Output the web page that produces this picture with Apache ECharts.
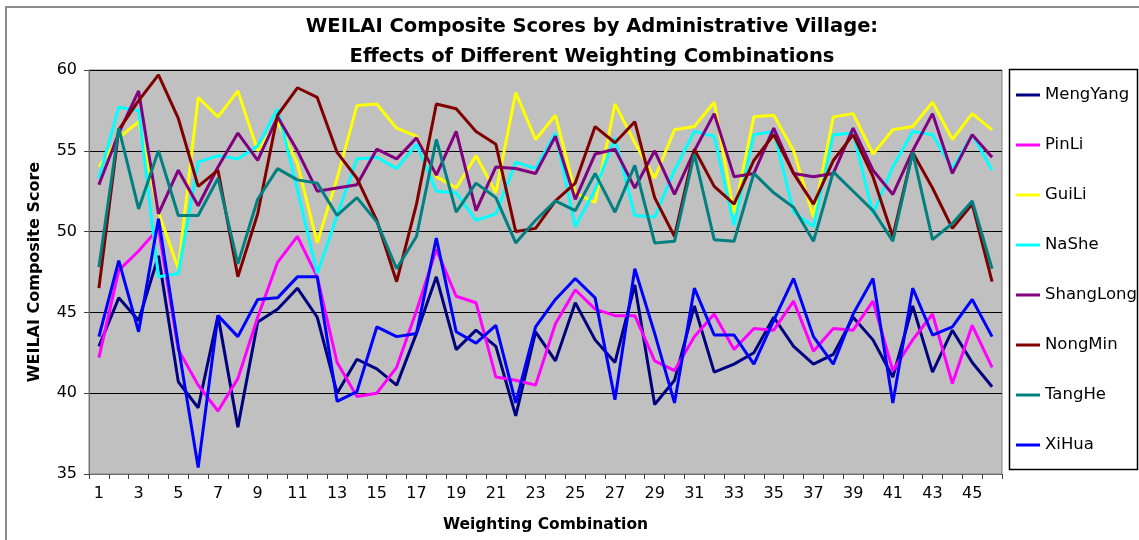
<!DOCTYPE html>
<html>
<head>
<meta charset="utf-8">
<script src="https://cdn.jsdelivr.net/npm/echarts@6/dist/echarts.min.js"></script>
<style>
html,body{margin:0;padding:0;background:#fff;}
#chart{width:1139px;height:540px;}
</style>
</head>
<body>
<div id="chart"></div>
<script>
var categories = [];
for (var k = 1; k <= 46; k++) { categories.push(String(k)); }

var seriesNames = ['MengYang','PinLi','GuiLi','NaShe','ShangLong','NongMin','TangHe','XiHua'];
var seriesColors = ['#000080','#FF00FF','#FFFF00','#00FFFF','#800080','#800000','#008080','#0000FF'];

var MengYang = [42.9,45.9,44.5,48.5,40.7,39.1,44.8,37.9,44.4,45.2,46.5,44.7,40.0,42.1,41.5,40.5,43.7,47.2,42.7,43.9,42.9,38.6,43.8,42.0,45.6,43.3,41.9,46.7,39.3,40.8,45.4,41.3,41.8,42.5,44.7,42.9,41.8,42.4,44.7,43.3,41.0,45.4,41.3,43.9,41.9,40.4];
var PinLi = [42.2,47.6,48.8,50.2,42.7,40.5,38.9,40.9,44.7,48.1,49.7,47.2,41.9,39.8,40.0,41.6,45.1,48.9,46.0,45.6,41.0,40.8,40.5,44.3,46.4,45.2,44.8,44.8,42.0,41.4,43.5,44.9,42.7,44.0,43.9,45.7,42.6,44.0,43.9,45.7,41.4,43.3,44.9,40.6,44.2,41.6];
var GuiLi = [54.0,55.8,56.8,51.2,47.7,58.3,57.1,58.7,55.0,56.8,54.2,49.3,53.3,57.8,57.9,56.4,55.9,53.4,52.7,54.7,52.4,58.6,55.7,57.2,52.4,51.8,57.9,55.5,53.3,56.3,56.5,58.0,51.1,57.1,57.2,55.0,50.9,57.1,57.3,54.8,56.3,56.5,58.0,55.7,57.3,56.3];
var NaShe = [53.3,57.7,57.5,47.2,47.4,54.3,54.7,54.5,55.3,57.6,52.6,47.4,51.0,54.5,54.6,53.9,55.4,52.5,52.4,50.7,51.1,54.3,53.9,56.1,50.3,52.6,55.8,51.0,50.9,53.8,56.2,55.9,50.4,56.0,56.2,51.2,50.3,56.0,56.1,51.1,54.0,56.2,56.0,53.9,56.0,53.8];
var ShangLong = [52.9,56.1,58.7,51.1,53.8,51.6,54.0,56.1,54.4,57.1,55.0,52.5,52.7,52.9,55.1,54.5,55.8,53.5,56.2,51.3,54.0,53.9,53.6,55.9,52.0,54.8,55.1,52.7,55.0,52.3,55.0,57.3,53.4,53.6,56.4,53.6,53.4,53.6,56.4,53.8,52.3,55.0,57.3,53.6,56.0,54.6];
var NongMin = [46.5,56.3,58.1,59.7,57.0,52.8,53.8,47.2,51.1,57.2,58.9,58.3,54.9,53.3,50.7,46.9,51.7,57.9,57.6,56.2,55.4,50.0,50.2,51.9,53.0,56.5,55.5,56.8,52.1,49.7,55.1,52.8,51.7,54.4,56.0,53.6,51.7,54.4,56.0,53.4,49.7,54.9,52.7,50.2,51.7,46.9];
var TangHe = [47.8,56.4,51.4,55.0,51.0,51.0,53.3,48.0,52.0,53.9,53.2,53.0,51.0,52.1,50.6,47.7,49.7,55.7,51.2,53.0,52.1,49.3,50.7,51.9,51.3,53.6,51.2,54.1,49.3,49.4,54.8,49.5,49.4,53.6,52.4,51.5,49.4,53.7,52.5,51.3,49.4,54.9,49.5,50.5,51.9,47.7];
var XiHua = [43.5,48.2,43.8,50.8,42.9,35.4,44.8,43.5,45.8,45.9,47.2,47.2,39.5,40.1,44.1,43.5,43.7,49.6,43.8,43.1,44.2,39.4,44.1,45.8,47.1,45.9,39.6,47.7,43.7,39.4,46.5,43.6,43.6,41.8,44.5,47.1,43.5,41.8,44.9,47.1,39.4,46.5,43.6,44.1,45.8,43.5];

var titleLine1 = 'WEILAI Composite Scores by Administrative Village:';
var titleLine2 = 'Effects of Different Weighting Combinations';
var xAxisTitle = 'Weighting Combination';
var yAxisTitle = 'WEILAI Composite Score';

var allData = [MengYang, PinLi, GuiLi, NaShe, ShangLong, NongMin, TangHe, XiHua];
var FONT = '"DejaVu Sans", "Liberation Sans", sans-serif';

var series = seriesNames.map(function (name, i) {
  return {
    name: name,
    type: 'line',
    data: allData[i],
    symbol: 'none',
    color: seriesColors[i],
    lineStyle: { color: seriesColors[i], width: 3 },
    itemStyle: { color: seriesColors[i] },
    animation: false,
    z: 2 + i
  };
});

var chart = echarts.init(document.getElementById('chart'), null, { renderer: 'canvas' });
chart.setOption({
  animation: false,
  backgroundColor: '#ffffff',
  grid: {
    left: 89, top: 70, right: 137, bottom: 66,
    show: true, backgroundColor: '#C0C0C0', borderColor: '#808080', borderWidth: 1
  },
  xAxis: {
    type: 'category',
    data: categories,
    boundaryGap: true,
    axisLine: { show: true, lineStyle: { color: '#707070', width: 1 } },
    axisTick: { show: true, interval: 0, length: 5, lineStyle: { color: '#404040' } },
    axisLabel: { interval: 1, fontSize: 16, fontFamily: FONT, color: '#000', margin: 12 },
    splitLine: { show: false }
  },
  yAxis: {
    type: 'value',
    min: 35, max: 60, interval: 5,
    axisLine: { show: true, lineStyle: { color: '#707070', width: 1 } },
    axisTick: { show: true, length: 5, lineStyle: { color: '#404040' } },
    axisLabel: { fontSize: 16, fontFamily: FONT, color: '#000', margin: 12 },
    splitLine: { show: true, lineStyle: { color: '#000', width: 1 } }
  },
  legend: {
    data: seriesNames,
    orient: 'vertical',
    left: 1016, top: 85,
    padding: 0,
    icon: 'rect',
    itemWidth: 24, itemHeight: 3,
    itemGap: 30,
    textStyle: { fontSize: 16.5, fontFamily: FONT, color: '#000', lineHeight: 20 }
  },
  graphic: [
    { type: 'rect', silent: true, shape: { x: 6, y: 7, width: 1200, height: 600 },
      style: { fill: 'none', stroke: '#8c8c8c', lineWidth: 2 }, z: -10 },
    { type: 'rect', silent: true, shape: { x: 1009.5, y: 69.5, width: 128, height: 400 },
      style: { fill: '#ffffff', stroke: '#000', lineWidth: 1.5 }, z: -5 },
    { type: 'text', silent: true, x: 592, y: 27,
      style: { text: titleLine1, font: 'bold 19.5px ' + FONT, fill: '#000', textAlign: 'center', textVerticalAlign: 'middle' } },
    { type: 'text', silent: true, x: 592, y: 57,
      style: { text: titleLine2, font: 'bold 19.5px ' + FONT, fill: '#000', textAlign: 'center', textVerticalAlign: 'middle' } },
    { type: 'text', silent: true, x: 545.5, y: 525,
      style: { text: xAxisTitle, font: 'bold 15.5px ' + FONT, fill: '#000', textAlign: 'center', textVerticalAlign: 'middle' } },
    { type: 'text', silent: true, x: 35, y: 272, rotation: Math.PI / 2,
      style: { text: yAxisTitle, font: 'bold 16px ' + FONT, fill: '#000', textAlign: 'center', textVerticalAlign: 'middle' } }
  ],
  series: series
});
</script>
</body>
</html>
